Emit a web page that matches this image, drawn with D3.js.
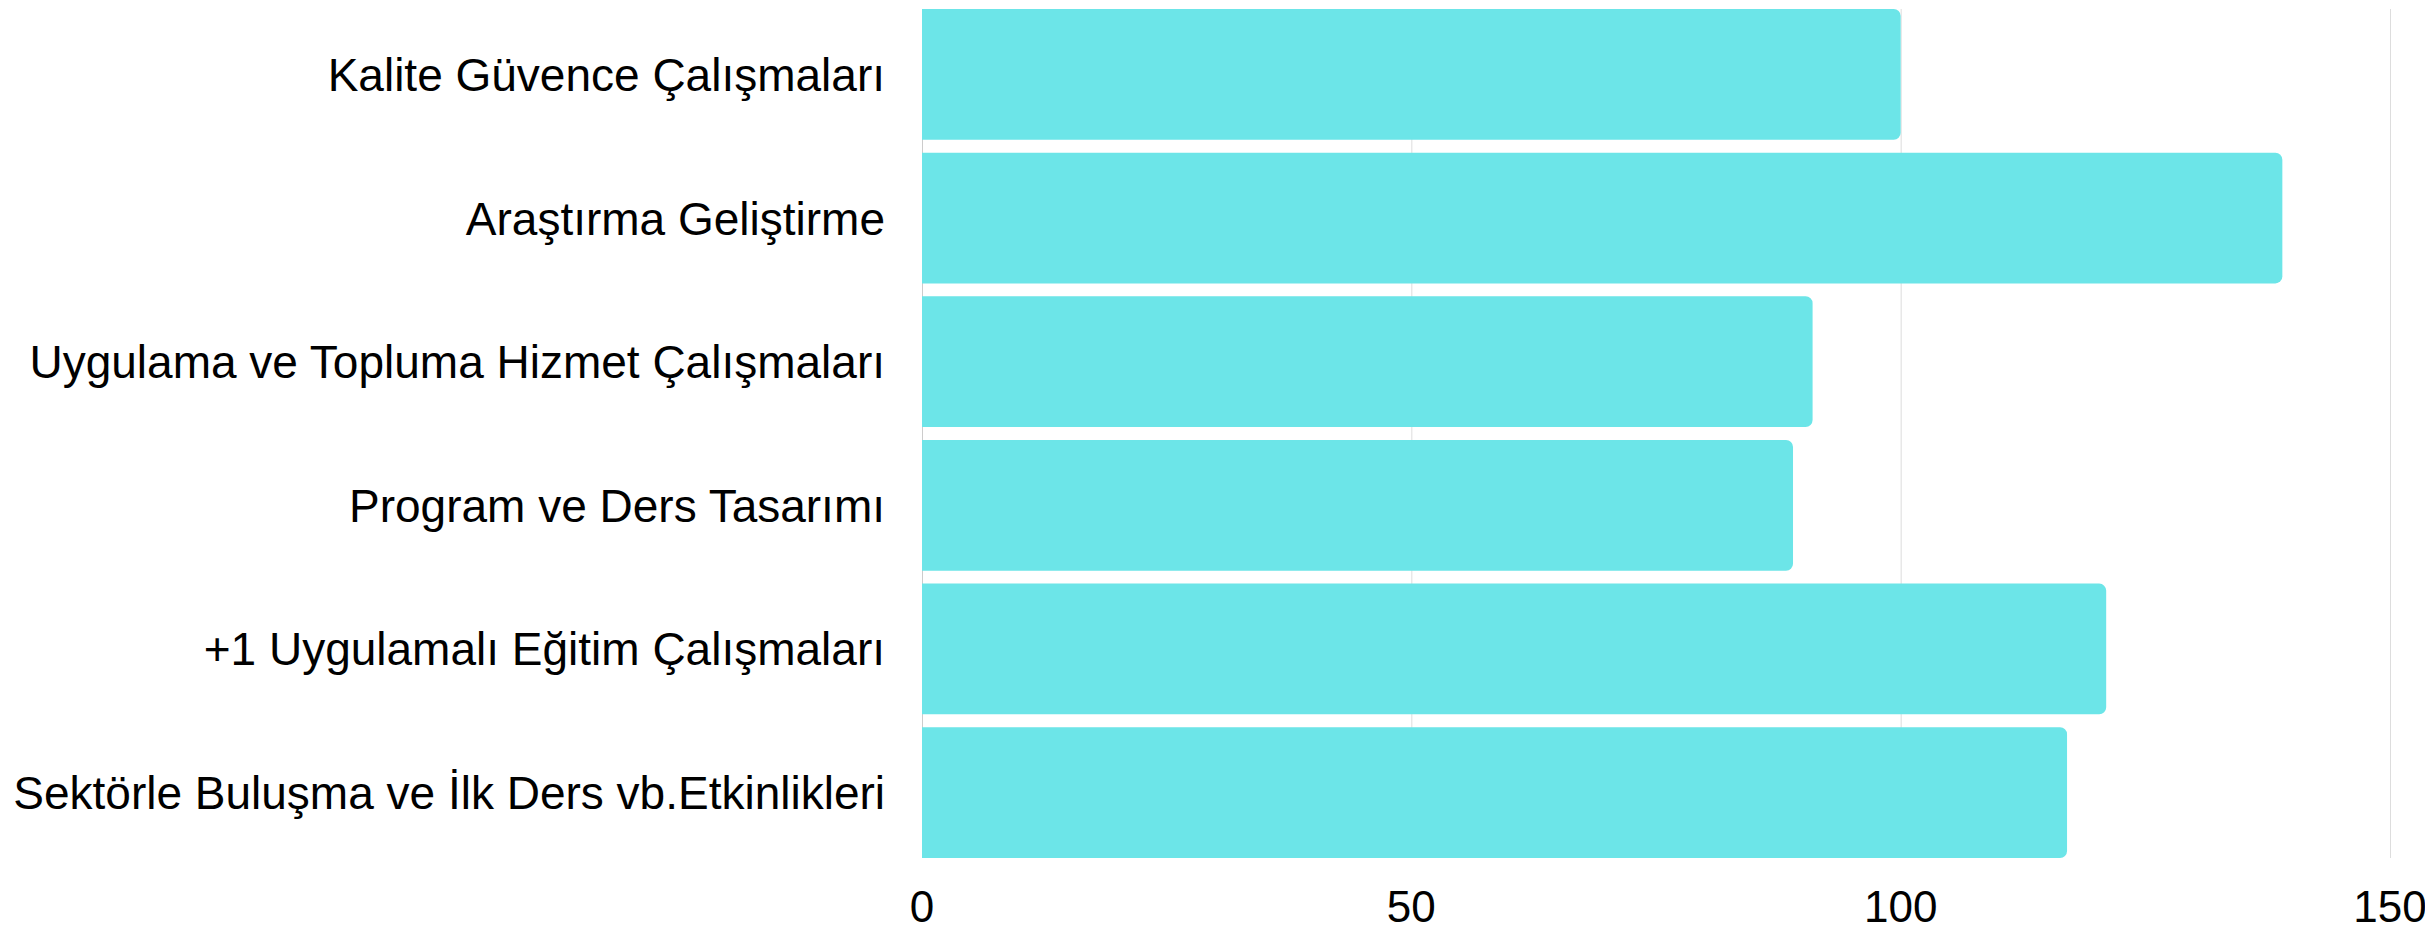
<!DOCTYPE html>
<html>
<head>
<meta charset="utf-8">
<script src="https://cdn.jsdelivr.net/npm/d3@7"></script>
<style>
  html, body { margin: 0; padding: 0; background: #ffffff; }
  svg { display: block; }
</style>
</head>
<body>
<script>
const categories = [
  "Kalite Güvence Çalışmaları",
  "Araştırma Geliştirme",
  "Uygulama ve Topluma Hizmet Çalışmaları",
  "Program ve Ders Tasarımı",
  "+1 Uygulamalı Eğitim Çalışmaları",
  "Sektörle Buluşma ve İlk Ders vb.Etkinlikleri"
];
const values = [100, 139, 91, 89, 121, 117];
const xTicks = [0, 50, 100, 150];

const W = 2425, H = 929;
const margin = { left: 922, right: 35, top: 9, bottom: 71 };

const svg = d3.select("body").append("svg")
  .attr("width", W).attr("height", H);

const x = d3.scaleLinear().domain([0, 150]).range([margin.left, W - margin.right]);
const y = d3.scaleBand().domain(categories)
  .range([margin.top, H - margin.bottom])
  .paddingInner(0.09).paddingOuter(0);

const font = "'Liberation Sans', Arial, sans-serif";

// gridlines
svg.append("g").selectAll("line").data(xTicks.filter(d => d > 0)).join("line")
  .attr("x1", d => x(d) + 0.5).attr("x2", d => x(d) + 0.5)
  .attr("y1", margin.top).attr("y2", H - margin.bottom)
  .attr("stroke", "#dddddd").attr("stroke-width", 1);

// left axis line
svg.append("line")
  .attr("x1", x(0) + 0.5).attr("x2", x(0) + 0.5)
  .attr("y1", margin.top).attr("y2", H - margin.bottom)
  .attr("stroke", "#cccccc").attr("stroke-width", 1);

// bars with rounded right corners
const r = 7;
function barPath(x0, x1, y0, h) {
  const rr = Math.min(r, (x1 - x0) / 2, h / 2);
  return `M${x0},${y0}H${x1 - rr}A${rr},${rr} 0 0 1 ${x1},${y0 + rr}` +
         `V${y0 + h - rr}A${rr},${rr} 0 0 1 ${x1 - rr},${y0 + h}H${x0}Z`;
}
svg.append("g").selectAll("path").data(categories).join("path")
  .attr("d", (c, i) => barPath(x(0), x(values[i]), y(c), y.bandwidth()))
  .attr("fill", "#6ce5e8");

// category labels
svg.append("g").selectAll("text").data(categories).join("text")
  .attr("x", x(0) - 37)
  .attr("y", c => y(c) + y.bandwidth() / 2 + 16.5)
  .attr("text-anchor", "end")
  .attr("font-family", font)
  .attr("font-size", 46)
  .attr("fill", "#000")
  .text(c => c);

// x tick labels
svg.append("g").selectAll("text").data(xTicks).join("text")
  .attr("x", d => x(d))
  .attr("y", 922)
  .attr("text-anchor", "middle")
  .attr("font-family", font)
  .attr("font-size", 44)
  .attr("fill", "#000")
  .text(d => d);
</script>
</body>
</html>
